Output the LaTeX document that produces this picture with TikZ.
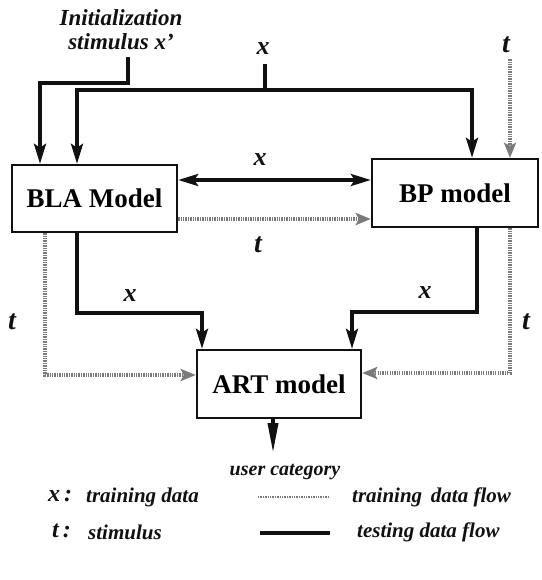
\documentclass[tikz,border=0pt]{standalone}
\usepackage{fontspec}
\setmainfont{Liberation Serif}
\usepackage{tikz}
\usepackage{xcolor}
\usetikzlibrary{arrows.meta,positioning,calc}
\definecolor{ink}{HTML}{111111}
\definecolor{trainc}{HTML}{7A7A7A}
\tikzset{
  model/.style={draw=ink, fill=white, line width=2.4pt, minimum width=165pt,
                minimum height=67pt, inner sep=0pt, font=\fontsize{27}{30}\selectfont\bfseries},
  lab/.style={font=\fontsize{26}{28}\selectfont\bfseries\itshape, inner sep=0pt, text=ink},
  legtext/.style={font=\fontsize{21}{23}\selectfont\bfseries\itshape, inner sep=0pt,
                  anchor=west, text=ink},
  testflow/.style={draw=ink, line width=3.6pt},
  testarrow/.style={testflow, -{Stealth[length=20pt,width=12pt,inset=4pt]}},
  testboth/.style={testflow, {Stealth[length=20pt,width=12pt,inset=4pt]}-{Stealth[length=20pt,width=12pt,inset=4pt]}},
  trainflow/.style={draw=trainc, line width=3.6pt, dash pattern=on 1.3pt off 1.1pt},
  trainarrow/.style={trainflow, -{Stealth[length=15pt,width=12pt,inset=3pt,fill=trainc,color=trainc]}}
}
\begin{document}
\begin{tikzpicture}[x=1pt,y=-1pt]
  \useasboundingbox (0,0) rectangle (541,580);
  % models
  \node[model] (bla) at (94.5,198.5) {BLA Model};
  \node[model, minimum width=166pt, minimum height=68pt] (bp) at (455,193) {BP model};
  \node[model, minimum width=164pt, minimum height=68pt] (art) at (279,384) {ART model};
  % input labels
  \node[lab, font=\fontsize{23}{24}\selectfont\bfseries\itshape, align=center] (init) at (121,30)
    {Initialization\\stimulus x'};
  \node[lab] (xtop) at (263,49) {x};
  \node[lab, font=\fontsize{28}{30}\selectfont\bfseries\itshape] (ttop) at (506,45) {t};
  \node[lab] (xmid) at (260,160) {x};
  \node[lab, font=\fontsize{28}{30}\selectfont\bfseries\itshape] (tmid) at (258,245) {t};
  \node[lab] (xleft) at (130,296) {x};
  \node[lab] (xright) at (425,293) {x};
  \node[lab, font=\fontsize{28}{30}\selectfont\bfseries\itshape] (tleft) at (12,322) {t};
  \node[lab, font=\fontsize{28}{30}\selectfont\bfseries\itshape] (tright) at (526,322) {t};
  \node[lab, font=\fontsize{20}{22}\selectfont\bfseries\itshape] (user) at (285,472) {user category};
  \coordinate (initout) at (128,57);
  % testing data flow
  \draw[testarrow] (initout) -- ++(0,26) -| (40,0 |- bla.north);
  \draw[testflow] (xtop.south) ++(2,9) -- ++(0,26) coordinate (xsplit);
  \draw[testarrow] (xsplit) -| (77,0 |- bla.north);
  \draw[testarrow] (xsplit) -| (472,0 |- bp.north);
  \draw[testboth] (bla.east |- 0,180) -- (bp.west |- 0,180);
  \draw[testarrow] (77,0 |- bla.south) -- (77,313) -| (202,0 |- art.north);
  \draw[testarrow] (477,0 |- bp.south) -- (477,312) -| (352,0 |- art.north);
  \draw[testflow, -{Triangle[length=30pt,width=10pt]}] (273,0 |- art.south) -- (273,453);
  % training data flow
  \draw[trainarrow] (ttop.south) ++(4,6) -- (510,0 |- bp.north);
  \draw[trainarrow] (bla.east |- 0,219) -- (bp.west |- 0,219);
  \draw[trainarrow] (45,0 |- bla.south) |- (art.west |- 0,375);
  \draw[trainarrow] (510,0 |- bp.south) |- (art.east |- 0,373);
  % legend
  \node[legtext, font=\fontsize{24}{26}\selectfont\bfseries\itshape] (xkey) at (48,496) {x\,:};
  \node[legtext] (xdesc) at (86,497) {training data};
  \node[legtext, font=\fontsize{24}{26}\selectfont\bfseries\itshape] (tkey) at (52,531) {t\,:};
  \node[legtext] (tdesc) at (88,532) {stimulus};
  \node[legtext] (traindesc) at (352,497) {training\, data flow};
  \node[legtext] (testdesc) at (357,532) {testing data flow};
  \coordinate (trainA) at (258,497);
  \coordinate (trainB) at (328,497);
  \coordinate (testA) at (260,533);
  \coordinate (testB) at (330,533);
  \draw[trainflow, line width=2.4pt] (trainA) -- (trainB);
  \draw[testflow] (testA) -- (testB);
\end{tikzpicture}
\end{document}
